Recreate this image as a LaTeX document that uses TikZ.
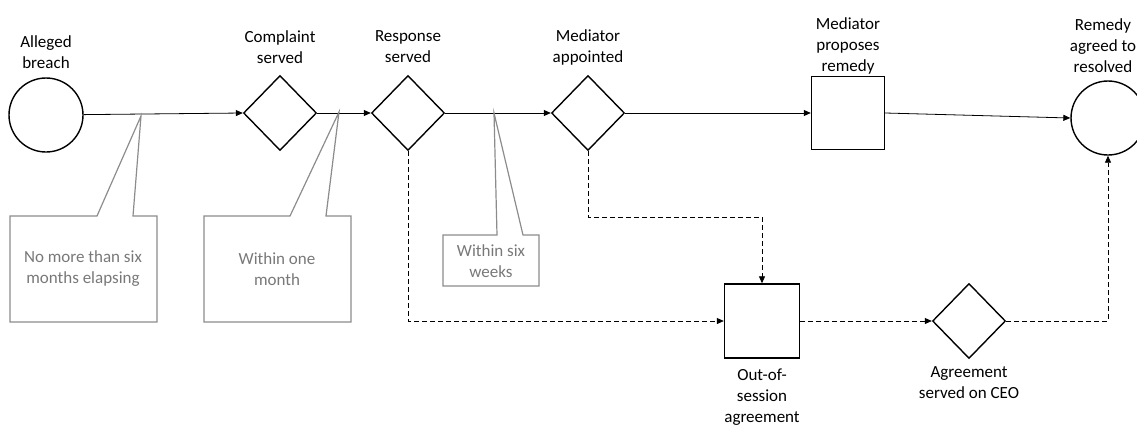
\documentclass[tikz,border=0pt]{standalone}
\usepackage{fontspec}
\setmainfont{Carlito}
\usepackage{tikz}
\usetikzlibrary{arrows.meta, shapes.geometric}
\tikzset{>={Triangle[length=7pt, width=6pt]}}
\definecolor{notegray}{rgb}{0.55,0.55,0.55}
\definecolor{notetext}{rgb}{0.47,0.47,0.47}
\tikzset{
  evt/.style={draw, circle, line width=1.4pt, minimum size=74pt, inner sep=0pt},
  gate/.style={draw, diamond, line width=1.4pt, minimum width=73pt, minimum height=75pt, inner sep=0pt},
  task/.style={draw, rectangle, line width=1.4pt, minimum width=73pt, minimum height=73pt, inner sep=0pt},
  lbl/.style={align=center, inner sep=0pt, font=\fontsize{17pt}{21pt}\selectfont},
  note/.style={draw=notegray, line width=1.2pt, line join=miter},
  notelbl/.style={lbl, text=notetext},
  flow/.style={->, line width=0.8pt},
  altflow/.style={->, line width=0.8pt, dash pattern=on 5pt off 3pt},
}

\begin{document}
\begin{tikzpicture}[x=1pt, y=-1pt]

    \useasboundingbox (0,0) rectangle (1137,426);
    \clip (0,0) rectangle (1137,426);

    % main line of events
    \node[evt]  (breach)    at (46,115)   {};
    \node[gate] (complaint) at (280,113)  {};
    \node[gate] (response)  at (408,113)  {};
    \node[gate] (appointed) at (588,113)  {};
    \node[task] (proposes)  at (848,113)  {};
    \node[evt]  (resolved)  at (1108,118) {};

    \node[lbl] (breachlbl)    at (46,52)   {Alleged\\breach};
    \node[lbl] (complaintlbl) at (280,47)  {Complaint\\served};
    \node[lbl] (responselbl)  at (408,47)  {Response\\served};
    \node[lbl] (appointedlbl) at (588,47)  {Mediator\\appointed};
    \node[lbl] (proposeslbl)  at (848,46)  {Mediator\\proposes\\remedy};
    \node[lbl] (resolvedlbl)  at (1103,46) {Remedy\\agreed to\\resolved};

    % out-of-session branch
    \node[task, minimum width=75pt, minimum height=74pt] (oos) at (762,321) {};
    \node[gate] (ceo) at (969,321) {};

    \node[lbl] (ooslbl) at (762,397) {Out-of-\\session\\agreement};
    \node[lbl] (ceolbl) at (969,383) {Agreement\\served on CEO};

    \draw[flow] (breach) -- (complaint.west);
    \draw[flow] (complaint.east) -- (response.west);
    \draw[flow] (response.east) -- (appointed.west);
    \draw[flow] (appointed.east) -- (proposes.west);
    \draw[flow] (proposes.east) -- (resolved.west);

    \coordinate (bend) at (680,217);
    \draw[altflow] (response.south) |- (oos.west);
    \draw[altflow] (appointed.south) |- (bend) -| (oos.north);
    \draw[altflow] (oos.east) -- (ceo.west);
    \draw[altflow] (ceo.east) -| (resolved.south);

    % time limit call-outs
    \coordinate (tipA) at (141,116);
    \coordinate (tipB) at (339,112);
    \coordinate (tipC) at (494,113);

    \draw[note] (10,216) -- (97,216) -- (tipA) -- (133,216) -- (157,216)
      -- (157,322) -- (10,322) -- cycle;
    \node[notelbl] (sixmonths) at (83,269) {No more than six\\months elapsing};

    \draw[note] (204,216) -- (290,216) -- (tipB) -- (326,216) -- (351,216)
      -- (351,322) -- (204,322) -- cycle;
    \node[notelbl] (onemonth) at (277,269) {Within one\\month};

    \draw[note] (443,235) -- (497,235) -- (tipC) -- (523,235) -- (539,235)
      -- (539,286) -- (443,286) -- cycle;
    \node[notelbl] (sixweeks) at (491,261) {Within six\\weeks};

\end{tikzpicture}
\end{document}
